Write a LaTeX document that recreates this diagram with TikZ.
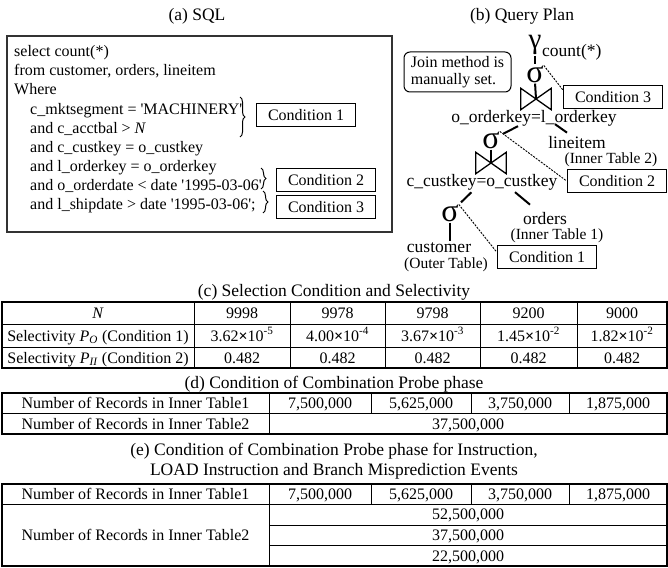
\documentclass[tikz,border=0pt]{standalone}
\usepackage{fontspec}
\setmainfont{Liberation Serif}
\usetikzlibrary{calc,decorations.pathreplacing}

\newcommand\scival[2]{#1\textbf{×}10\textsuperscript{#2}}

\begin{document}
\begin{tikzpicture}[x=1pt,y=-1pt,
  every node/.style={inner sep=0pt, font=\fontsize{16}{19}\selectfont},
  sqlline/.style={anchor=base west},
  capt/.style={anchor=base, font=\fontsize{17.5}{20}\selectfont},
  condbox/.style={draw, line width=1.7pt, minimum width=99pt, minimum height=23pt},
  planlbl/.style={font=\fontsize{17.5}{20}\selectfont},
  tablbl/.style={font=\fontsize{15.5}{18}\selectfont},
  greekop/.style={font=\fontsize{32}{32}\selectfont},
  joinbox/.style={minimum width=30pt, minimum height=21pt},
  joinmark/.style={line width=1.3pt, line join=miter},
  planedge/.style={line width=2pt},
  hintline/.style={line width=0.9pt, dash pattern=on 2pt off 1.2pt},
  brc/.style={decorate, decoration={brace, amplitude=5pt}, line width=1pt},
  cellt/.style={anchor=base},
  tframe/.style={line width=1.5pt},
  tgrid/.style={line width=1pt},
]
\useasboundingbox (0,0) rectangle (668,567);

% ---------- captions ----------
\node[capt] (capA) at (197,21) {(a) SQL};
\node[capt] (capB) at (522,21) {(b) Query Plan};
\node[capt] (capC) at (334,296) {(c) Selection Condition and Selectivity};
\node[capt] (capD) at (334,388) {(d) Condition of Combination Probe phase};
\node[capt] (capE1) at (334,455) {(e) Condition of Combination Probe phase for Instruction,};
\node[capt] (capE2) at (334,475) {LOAD Instruction and Branch Misprediction Events};

% ---------- (a) SQL ----------
\node[draw=black!80, line width=1.1pt, minimum width=385pt, minimum height=196pt] (sqlbox) at (199.5,134) {};
\node[sqlline] (q1) at (14,57)  {select count(*)};
\node[sqlline] (q2) at (14,76)  {from customer, orders, lineitem};
\node[sqlline] (q3) at (14,95)  {Where};
\node[sqlline] (q4) at (30,114) {c\_mktsegment = \textquotesingle MACHINERY\textquotesingle};
\node[sqlline] (q5) at (30,133) {and c\_acctbal > \textit{N}};
\node[sqlline] (q6) at (30,152) {and c\_custkey = o\_custkey};
\node[sqlline] (q7) at (30,171) {and l\_orderkey = o\_orderkey};
\node[sqlline] (q8) at (30,190) {and o\_orderdate < date \textquotesingle 1995-03-06\textquotesingle};
\node[sqlline] (q9) at (30,209) {and l\_shipdate > date \textquotesingle 1995-03-06\textquotesingle;};

\draw[brc] (240,97) -- (240,137);
\draw[brc] (261,168) -- (261,189);
\draw[brc] (263,191) -- (263,213);

\node[condbox] (c1a) at (306,115) {Condition 1};
\node[condbox] (c2a) at (326,180) {Condition 2};
\node[condbox] (c3a) at (326,207) {Condition 3};

% ---------- (b) query plan ----------
\node[draw, rounded corners=6pt, line width=1pt, minimum width=107pt, minimum height=40pt,
      align=left, font=\fontsize{16}{17}\selectfont] (note) at (457.5,72) {Join method is\\manually set.};

\node[greekop, font=\fontsize{29}{29}\selectfont] (gam) at (535,45) {γ};
\node[planlbl, anchor=west] (cnt) at (542,52) {count(*)};
\node[greekop] (sg1) at (535,74) {σ};
\node[joinbox] (j1) at (536,99) {};
\node[planlbl] (k1) at (534,118) {o\_orderkey=l\_orderkey};
\node[greekop] (sg2) at (491,140) {σ};
\node[planlbl] (tli) at (577,143) {lineitem};
\node[tablbl] (tli2) at (611,160) {(Inner Table 2)};
\node[joinbox] (j2) at (491,163) {};
\node[planlbl] (k2) at (482,182) {c\_custkey=o\_custkey};
\node[greekop] (sg3) at (450,213) {σ};
\node[planlbl] (tor) at (545,219) {orders};
\node[tablbl] (tor2) at (557,236) {(Inner Table 1)};
\node[planlbl] (tcu) at (439,248) {customer};
\node[tablbl] (tcu2) at (446,265) {(Outer Table)};

\node[condbox] (c3b) at (613,97) {Condition 3};
\node[condbox] (c2b) at (617,181) {Condition 2};
\node[condbox] (c1b) at (547,257) {Condition 1};

\foreach \j in {j1,j2}
  \draw[joinmark] (\j.north west) -- (\j.south east) -- (\j.north east) -- (\j.south west) -- cycle;

\draw[planedge, shorten <=1pt, shorten >=1.5pt] (gam.south) -- (sg1.north);
\draw[planedge, shorten <=1pt] (sg1.south) -- (j1.center);
\draw[planedge, shorten >=4pt] (k1) -- (sg2);
\draw[planedge] ($(k1.south)+(21,-2)$) -- ($(tli.north)+(-10,-4)$);
\draw[planedge, shorten <=1pt] (sg2.south) -- (j2.center);
\draw[planedge, shorten <=3pt, shorten >=3pt] (k2) -- (sg3);
\draw[planedge] ($(k2.south)+(33,2)$) -- ($(tor.north)+(-15,-8)$);
\draw[planedge, shorten <=1pt, shorten >=2pt] (sg3.south) -- (sg3.south |- tcu.north);

\draw[hintline] (sg1.north east) -- ($(c3b.north west)+(0,5)$);
\draw[hintline] (sg2.north east) -- (c2b.west);
\draw[hintline] (sg3.north east) -- ($(c1b.west)+(0,-5)$);

% ---------- (c) selectivity table ----------
\draw[tframe] (2,302) rectangle (667,368);
\foreach \y in {324,347} \draw[tgrid] (2,\y) -- (667,\y);
\foreach \x in {194,290,385,480,577} \draw[tgrid] (\x,302) -- (\x,368);

\node[cellt] (cN) at (98,318.5) {\textit{N}};
\node[cellt] (cPO) at (98,341) {Selectivity \textit{P}\textsubscript{\textit{O}} (Condition 1)};
\node[cellt] (cPI) at (98,363) {Selectivity \textit{P}\textsubscript{\textit{II}} (Condition 2)};
\foreach \x/\n/\a/\b [count=\i] in {242/9998/3.62/-5, 337.5/9978/4.00/-4, 432.5/9798/3.67/-3, 528.5/9200/1.45/-2, 622/9000/1.82/-2} {
  \node[cellt] (cn\i) at (\x,318.5) {\n};
  \node[cellt] (cp\i) at (\x,341) {\scival{\a}{\b}};
  \node[cellt] (cq\i) at (\x,363) {0.482};
}

% ---------- (d) probe-phase table ----------
\draw[tframe] (2,393) rectangle (667,434);
\draw[tgrid] (2,413) -- (667,413);
\draw[tgrid] (269,393) -- (269,434);
\foreach \x in {371,471,569} \draw[tgrid] (\x,393) -- (\x,413);
\node[cellt] (d1) at (135.5,408.5) {Number of Records in Inner Table1};
\node[cellt] (d2) at (135.5,429) {Number of Records in Inner Table2};
\foreach \x/\v [count=\i] in {320/{7,500,000}, 421/{5,625,000}, 520/{3,750,000}, 618/{1,875,000}}
  \node[cellt] (dv\i) at (\x,408.5) {\v};
\node[cellt] (dw) at (468,429) {37,500,000};

% ---------- (e) probe-phase table for events ----------
\draw[tframe] (2,484) rectangle (667,566);
\draw[tgrid] (2,504) -- (667,504);
\draw[tgrid] (269,525) -- (667,525);
\draw[tgrid] (269,545.5) -- (667,545.5);
\draw[tgrid] (269,484) -- (269,566);
\foreach \x in {371,471,569} \draw[tgrid] (\x,484) -- (\x,504);
\node[cellt] (e1) at (135.5,499) {Number of Records in Inner Table1};
\node[cellt] (e2) at (135.5,540) {Number of Records in Inner Table2};
\foreach \x/\v [count=\i] in {320/{7,500,000}, 421/{5,625,000}, 520/{3,750,000}, 618/{1,875,000}}
  \node[cellt] (ev\i) at (\x,499) {\v};
\node[cellt] (ew1) at (468,519.5) {52,500,000};
\node[cellt] (ew2) at (468,540) {37,500,000};
\node[cellt] (ew3) at (468,561) {22,500,000};
\end{tikzpicture}
\end{document}
